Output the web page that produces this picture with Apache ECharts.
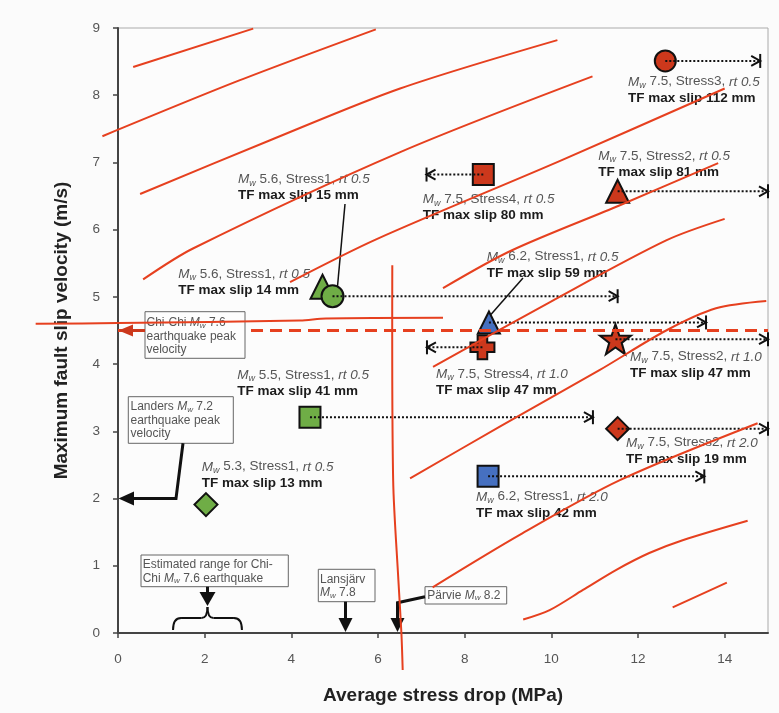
<!DOCTYPE html>
<html><head><meta charset="utf-8">
<script src="https://cdn.jsdelivr.net/npm/echarts@6/dist/echarts.min.js"></script>
<style>html,body{margin:0;padding:0;background:#fbfbfb}#c{width:779px;height:713px}</style>
</head><body><div id="c"></div>
<script>
// ---------- data ----------
const xTicks = [0, 2, 4, 6, 8, 10, 12, 14];
const yTicks = [0, 1, 2, 3, 4, 5, 6, 7, 8, 9];

// red contour lines (stress drop MPa, slip velocity m/s)
const contour1 = [[0.35, 8.42], [3.12, 8.99]];
const contour2 = [[-0.36, 7.39], [2.8, 8.22], [5.95, 8.98]];
const contour3 = [[0.51, 6.53], [3.51, 7.33], [6.51, 8.10], [10.14, 8.82]];
const contour4 = [[0.58, 5.26], [1.73, 5.72], [6.5, 7.15], [10.95, 8.28]];
const contour5 = [[3.97, 5.22], [5.97, 5.86], [10.19, 7.02], [14.0, 8.10]];
const contour6 = [[7.5, 5.13], [9.08, 5.69], [11.57, 6.36], [13.85, 6.99]];
const contour7 = [[7.27, 3.96], [9.96, 4.92], [12.65, 5.84], [14.0, 6.16]];
const contour8 = [[6.74, 2.30], [8.81, 3.07], [11.11, 3.91], [12.65, 4.50], [13.8, 4.83], [14.96, 4.94]];
const contour9 = [[7.26, 0.68], [9.27, 1.46], [11.57, 2.27], [14.76, 3.12]];
const contour10 = [[9.35, 0.20], [9.96, 0.34], [10.73, 0.64], [11.5, 0.94], [12.26, 1.19], [13.03, 1.38], [14.53, 1.67]];
const contour11 = [[12.8, 0.38], [14.05, 0.75]];
const contourVertical = [[6.33, 5.47], [6.35, 2.27], [6.47, 0.79], [6.54, 0.0], [6.57, -0.55]];
const contourHorizontal = [[-1.9, 4.6], [0, 4.61], [4.2, 4.65], [4.8, 4.68], [7.5, 4.69]];

// simulated cases
const pointX = [12.63, 8.43, 11.53, 4.72, 4.95, 8.56, 8.41, 11.48, 4.43, 11.53, 8.54, 2.03];
const pointY = [8.51, 6.82, 6.57, 5.15, 5.01, 4.62, 4.25, 4.37, 3.21, 3.04, 2.33, 1.91];
const arrowEndX = [14.82, 7.12, 15.0, null, 11.53, 13.57, 7.13, 15.0, 10.96, 15.0, 13.53, null];
const mwList = ['7.5', '7.5', '7.5', '5.6', '5.6', '6.2', '7.5', '7.5', '5.5', '7.5', '6.2', '5.3'];
const stressList = ['Stress3', 'Stress4', 'Stress2', 'Stress1', 'Stress1', 'Stress1', 'Stress4', 'Stress2', 'Stress1', 'Stress2', 'Stress1', 'Stress1'];
const rtList = ['0.5', '0.5', '0.5', '0.5', '0.5', '0.5', '1.0', '1.0', '0.5', '2.0', '2.0', '0.5'];
const slipList = [112, 80, 81, 14, 15, 59, 47, 47, 41, 19, 42, 13];

// reference earthquakes
const chiChiVelocity = 4.5;
const landersVelocity = 2.0;
const chiChiStressRange = [1.27, 2.86];
const lansjarvStress = 5.25;
const parvieStress = 6.45;

// ---------- styles / layout ----------
const FONT = '"Liberation Sans", Arial, Helvetica, sans-serif';
const RED = '#cc381c', GREEN = '#6fad46', BLUE = '#4670c0', LINE_RED = '#e6401f';
function starPath() {
  let d = '';
  for (let i = 0; i < 10; i++) {
    const r = i % 2 === 0 ? 1 : 0.4;
    const a = -Math.PI / 2 + i * Math.PI / 5;
    d += (i === 0 ? 'M' : 'L') + (r * Math.cos(a)).toFixed(4) + ',' + (r * Math.sin(a)).toFixed(4) + ' ';
  }
  return 'path://' + d + 'Z';
}
const STAR = starPath();
const CROSS = 'path://M3,0 H7 V3 H10 V7 H7 V10 H3 V7 H0 V3 H3 Z';
const markerStyle = [
  ['circle', 21, RED], ['rect', 21, RED], ['triangle', 23, RED], ['triangle', 24, GREEN],
  ['circle', 22, GREEN], ['triangle', 22, BLUE], [CROSS, 24, RED], [STAR, [31, 30], RED],
  ['rect', 21, GREEN], ['diamond', 23, RED], ['rect', 21, BLUE], ['diamond', 23, GREEN]
];
const labelPos = [[628, 73.5], [422.7, 191], [598.3, 147.8], [178.3, 265.8], [238, 171], [486.7, 248.5],
  [436, 365.8], [630, 348.5], [237.3, 366.8], [626, 434.5], [476, 488.5], [201.7, 458.5]];

const chart = echarts.init(document.getElementById('c'), null, {renderer: 'canvas'});

const contourList = [contour1, contour2, contour3, contour4, contour5, contour6, contour7, contour8,
  contour9, contour10, contour11, contourVertical, contourHorizontal];
const contourSeries = contourList.map(arr => ({
  type: 'custom', data: [[arr[arr.length - 1][0], 0]], clip: false, z: 10, silent: true,
  renderItem: function (params, api) {
    return {type: 'polyline', shape: {points: arr.map(d => api.coord(d)), smooth: 0.3},
      style: {stroke: LINE_RED, lineWidth: 2, fill: null}};
  }
}));

const scatterData = pointX.map((x, i) => ({
  value: [x, pointY[i]],
  symbol: markerStyle[i][0],
  symbolSize: markerStyle[i][1],
  itemStyle: {color: markerStyle[i][2], borderColor: '#111', borderWidth: 2, opacity: 1}
}));

const arrowData = [];
pointX.forEach((x, i) => { if (arrowEndX[i] !== null) arrowData.push([x, pointY[i], arrowEndX[i]]); });

const option = {
  animation: false,
  backgroundColor: '#fbfbfb',
  textStyle: {fontFamily: FONT},
  grid: {left: 118, right: 11, top: 28, bottom: 80, show: true, borderColor: '#aaaaaa', borderWidth: 1, backgroundColor: '#fcfcfc'},
  xAxis: {
    type: 'value', min: 0, max: 15,
    name: 'Average stress drop (MPa)', nameLocation: 'middle', nameGap: 53,
    nameTextStyle: {fontSize: 19, fontWeight: 'bold', color: '#222', fontFamily: FONT},
    axisLine: {lineStyle: {color: '#444', width: 2}},
    axisTick: {show: true, length: 5, customValues: xTicks, lineStyle: {color: '#444', width: 1.5}},
    axisLabel: {customValues: xTicks, color: '#555', fontSize: 13.5, margin: 19, fontFamily: FONT},
    splitLine: {show: false}
  },
  yAxis: {
    type: 'value', min: 0, max: 9, interval: 1,
    name: 'Maximum fault slip velocity (m/s)', nameLocation: 'middle', nameGap: 47,
    nameTextStyle: {fontSize: 19, fontWeight: 'bold', color: '#222', fontFamily: FONT},
    axisLine: {lineStyle: {color: '#444', width: 2}},
    axisTick: {show: true, length: 5, customValues: yTicks, lineStyle: {color: '#444', width: 1.5}},
    axisLabel: {customValues: yTicks, color: '#555', fontSize: 13.5, margin: 18, fontFamily: FONT},
    splitLine: {show: false}
  },
  series: [
    {type: 'line', data: [[0, chiChiVelocity], [15, chiChiVelocity]], symbol: 'none', z: 4, silent: true,
      lineStyle: {color: LINE_RED, width: 3, type: [12, 7]}},
    {type: 'scatter', data: scatterData, z: 3, silent: true},
    {type: 'custom', data: arrowData, z: 4, clip: false, silent: true,
      renderItem: function (params, api) {
        const p0 = api.coord([api.value(0), api.value(1)]);
        const p1 = api.coord([api.value(2), api.value(1)]);
        const dir = p1[0] > p0[0] ? 1 : -1;
        const st = {stroke: '#111', lineWidth: 2, fill: null};
        return {type: 'group', children: [
          {type: 'line', shape: {x1: p0[0], y1: p0[1], x2: p1[0] - dir * 2, y2: p1[1]}, style: {stroke: '#111', lineWidth: 2, lineDash: [2, 2]}},
          {type: 'polyline', shape: {points: [[p1[0] - dir * 9, p1[1] - 5], [p1[0], p1[1]], [p1[0] - dir * 9, p1[1] + 5]]}, style: st},
          {type: 'line', shape: {x1: p1[0], y1: p1[1] - 7, x2: p1[0], y2: p1[1] + 7}, style: st}
        ]};
      }}
  ].concat(contourSeries)
};
chart.setOption(option);

// ---------- annotations ----------
const px = (x, y) => chart.convertToPixel({gridIndex: 0}, [x, y]);
function mwRich(sz, sub, col) {
  return {
    i: {fontStyle: 'italic', fontSize: sz, lineHeight: sz + 3, fill: col, color: col, fontFamily: FONT},
    s: {fontStyle: 'italic', fontSize: sub, lineHeight: sub, verticalAlign: 'bottom', fill: col, color: col, fontFamily: FONT},
    n: {fontSize: sz, lineHeight: sz + 3, fill: col, color: col, fontFamily: FONT},
    b: {fontSize: sz, fontWeight: 'bold', lineHeight: sz + 3, fill: '#1c1c1c', color: '#1c1c1c', fontFamily: FONT}
  };
}
const labelRich = mwRich(13.5, 9, '#555');
const boxRich = mwRich(12, 8, '#555');
boxRich.n.lineHeight = 13.5; boxRich.i.lineHeight = 13.5;

const g = [];
// case labels
pointX.forEach((x, i) => {
  g.push({type: 'text', x: labelPos[i][0], y: labelPos[i][1], z: 6, silent: true,
    style: {text: '{i|M}{s|w}{n| ' + mwList[i] + ', ' + stressList[i] + ', }{i|rt ' + rtList[i] + '}\n{b|TF max slip ' + slipList[i] + ' mm}',
      rich: labelRich, align: 'left', verticalAlign: 'top', fontFamily: FONT, fontSize: 13.5}});
});
// leader lines
const c15 = px(pointX[4], pointY[4]);
g.push({type: 'line', z: 6, shape: {x1: 345, y1: 204, x2: c15[0] + 5, y2: c15[1] - 10}, style: {stroke: '#111', lineWidth: 1.5}});
const c59 = px(pointX[5], pointY[5]);
g.push({type: 'line', z: 6, shape: {x1: 523, y1: 278, x2: c59[0] + 2, y2: c59[1] - 8}, style: {stroke: '#111', lineWidth: 1.5}});

function box(x, y, w, h, text, tx, ty) {
  g.push({type: 'rect', z: 5, shape: {x: x, y: y, width: w, height: h}, style: {fill: '#fdfdfd', stroke: '#666', lineWidth: 1}});
  g.push({type: 'text', z: 5, x: tx, y: ty, style: {text: text, rich: boxRich, align: 'left', verticalAlign: 'top', fontFamily: FONT, fontSize: 12}});
}
const blk = {stroke: '#111', lineWidth: 2, fill: null};
// Chi-Chi peak velocity
const cc = px(0, chiChiVelocity);
box(145, 311.7, 100, 46.6, '{n|Chi-Chi }{i|M}{s|w}{n| 7.6}\n{n|earthquake peak}\n{n|velocity}', 146.5, 316);
g.push({type: 'line', z: 5, shape: {x1: 145, y1: cc[1], x2: cc[0] + 12, y2: cc[1]}, style: {stroke: RED, lineWidth: 3}});
g.push({type: 'polygon', z: 5, shape: {points: [[cc[0] + 0.5, cc[1]], [cc[0] + 15, cc[1] - 6], [cc[0] + 15, cc[1] + 6]]}, style: {fill: RED}});
// Landers
const ld = px(0, landersVelocity);
box(128.3, 396.7, 105, 46.6, '{n|Landers }{i|M}{s|w}{n| 7.2}\n{n|earthquake peak}\n{n|velocity}', 130.5, 400);
g.push({type: 'polyline', z: 5, shape: {points: [[183, 443.3], [176, ld[1]], [ld[0] + 14, ld[1]]]}, style: {stroke: '#111', lineWidth: 3, fill: null}});
g.push({type: 'polygon', z: 5, shape: {points: [[ld[0] + 0.5, ld[1]], [ld[0] + 16, ld[1] - 7], [ld[0] + 16, ld[1] + 7]]}, style: {fill: '#111'}});
// Estimated range
const eL = px(chiChiStressRange[0], 0), eR = px(chiChiStressRange[1], 0);
const eC = (eL[0] + eR[0]) / 2, eB = eL[1] - 3, eT = eB - 12;
box(141, 555, 147.3, 31.7, '{n|Estimated range for Chi-}\n{n|Chi }{i|M}{s|w}{n| 7.6 earthquake}', 142.7, 558);
g.push({type: 'line', z: 5, shape: {x1: eC, y1: 586.7, x2: eC, y2: 594}, style: {stroke: '#111', lineWidth: 3}});
g.push({type: 'polygon', z: 5, shape: {points: [[eC - 8, 592], [eC + 8, 592], [eC, 606]]}, style: {fill: '#111'}});
g.push({type: 'bezierCurve', z: 5, shape: {x1: eL[0], y1: eB, cpx1: eL[0], cpy1: eT, x2: eL[0] + 8, y2: eT}, style: blk});
g.push({type: 'line', z: 5, shape: {x1: eL[0] + 8, y1: eT, x2: eC - 6, y2: eT}, style: blk});
g.push({type: 'bezierCurve', z: 5, shape: {x1: eC - 6, y1: eT, cpx1: eC, cpy1: eT, x2: eC, y2: eT - 11}, style: blk});
g.push({type: 'bezierCurve', z: 5, shape: {x1: eC + 6, y1: eT, cpx1: eC, cpy1: eT, x2: eC, y2: eT - 11}, style: blk});
g.push({type: 'line', z: 5, shape: {x1: eC + 6, y1: eT, x2: eR[0] - 8, y2: eT}, style: blk});
g.push({type: 'bezierCurve', z: 5, shape: {x1: eR[0], y1: eB, cpx1: eR[0], cpy1: eT, x2: eR[0] - 8, y2: eT}, style: blk});
// Lansjärv
const lj = px(lansjarvStress, 0);
box(318.3, 569.3, 56.7, 32.4, '{n|Lansjärv}\n{i|M}{s|w}{n| 7.8}', 320, 572.5);
g.push({type: 'line', z: 5, shape: {x1: lj[0], y1: 601.7, x2: lj[0], y2: lj[1] - 12}, style: {stroke: '#111', lineWidth: 3}});
g.push({type: 'polygon', z: 5, shape: {points: [[lj[0] - 7, lj[1] - 15], [lj[0] + 7, lj[1] - 15], [lj[0], lj[1] - 1]]}, style: {fill: '#111'}});
// Pärvie
const pv = px(parvieStress, 0);
box(425, 586.7, 81.7, 17.3, '{n|Pärvie }{i|M}{s|w}{n| 8.2}', 427.3, 588.5);
g.push({type: 'polyline', z: 5, shape: {points: [[425, 596.7], [pv[0], 602.7], [pv[0], pv[1] - 12]]}, style: {stroke: '#111', lineWidth: 3, fill: null}});
g.push({type: 'polygon', z: 5, shape: {points: [[pv[0] - 7, pv[1] - 15], [pv[0] + 7, pv[1] - 15], [pv[0], pv[1] - 1]]}, style: {fill: '#111'}});

chart.setOption({graphic: {elements: g}});
</script>
</body></html>
